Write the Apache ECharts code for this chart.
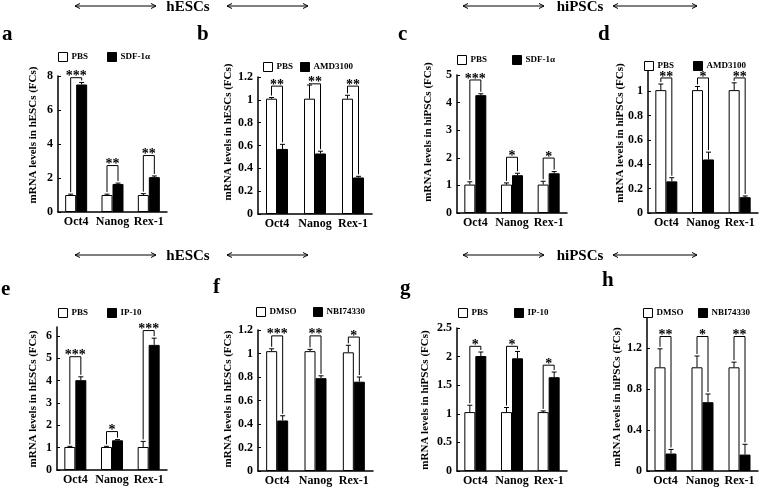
<!DOCTYPE html>
<html>
<head>
<meta charset="utf-8">
<script src="https://cdn.jsdelivr.net/npm/echarts@6/dist/echarts.min.js"></script>
<style>html,body{margin:0;padding:0;background:#fff}#c{width:760px;height:488px}</style>
</head>
<body>
<div id="c"></div>
<script>
// ---------------- data ----------------
const categories = ['Oct4', 'Nanog', 'Rex-1'];
const panelLetters = ['a', 'b', 'c', 'd', 'e', 'f', 'g', 'h'];
const controlNames = ['PBS', 'PBS', 'PBS', 'PBS', 'PBS', 'DMSO', 'PBS', 'DMSO'];
const treatNames = ['SDF-1α', 'AMD3100', 'SDF-1α', 'AMD3100', 'IP-10', 'NBI74330', 'IP-10', 'NBI74330'];
const cellTypes = ['hESCs', 'hESCs', 'hiPSCs', 'hiPSCs', 'hESCs', 'hESCs', 'hiPSCs', 'hiPSCs'];
const yMaxes = [8, 1.2, 5, 1.2, 6.4, 1.2, 2.5, 1.5];
const yIntervals = [2, 0.2, 1, 0.2, 1, 0.2, 0.5, 0.4];
const showMaxLabels = [true, true, true, false, false, true, true, false];

const ctrlA = [1.0, 1.0, 1.0],     ctrlErrA = [0.05, 0.05, 0.08];
const trtA = [7.5, 1.65, 2.05],     trtErrA = [0.12, 0.05, 0.07];
const bracketA = [7.9, 2.73, 3.32], starsA = ['***', '**', '**'];

const ctrlB = [1.01, 1.01, 1.01],   ctrlErrB = [0.01, 0.12, 0.03];
const trtB = [0.57, 0.53, 0.32],    trtErrB = [0.04, 0.02, 0.01];
const bracketB = [1.12, 1.14, 1.12], starsB = ['**', '**', '**'];

const ctrlC = [1.03, 1.03, 1.03],   ctrlErrC = [0.1, 0.06, 0.12];
const trtC = [4.27, 1.37, 1.44],    trtErrC = [0.05, 0.07, 0.06];
const bracketC = [4.82, 2.02, 1.99], starsC = ['***', '*', '*'];

const ctrlD = [1.01, 1.01, 1.01],   ctrlErrD = [0.05, 0.03, 0.06];
const trtD = [0.26, 0.44, 0.13],    trtErrD = [0.03, 0.06, 0.01];
const bracketD = [1.11, 1.11, 1.11], starsD = ['**', '*', '**'];

const ctrlE = [1.03, 1.03, 1.03],   ctrlErrE = [0.03, 0.03, 0.25];
const trtE = [4.02, 1.33, 5.6],     trtErrE = [0.15, 0.03, 0.3];
const bracketE = [5.07, 1.72, 6.24], starsE = ['***', '*', '***'];

const ctrlF = [1.02, 1.02, 1.01],   ctrlErrF = [0.02, 0.015, 0.06];
const trtF = [0.43, 0.79, 0.76],    trtErrF = [0.04, 0.02, 0.04];
const bracketF = [1.15, 1.15, 1.14], starsF = ['***', '**', '*'];

const ctrlG = [1.03, 1.03, 1.03],   ctrlErrG = [0.12, 0.08, 0.02];
const trtG = [2.01, 1.97, 1.64],    trtErrG = [0.07, 0.12, 0.09];
const bracketG = [2.18, 2.18, 1.85], starsG = ['*', '*', '*'];

const ctrlH = [1.01, 1.01, 1.01],   ctrlErrH = [0.18, 0.11, 0.05];
const trtH = [0.17, 0.67, 0.16],    trtErrH = [0.04, 0.08, 0.1];
const bracketH = [1.31, 1.31, 1.31], starsH = ['**', '*', '**'];

const ctrlAll = [ctrlA, ctrlB, ctrlC, ctrlD, ctrlE, ctrlF, ctrlG, ctrlH];
const ctrlErrAll = [ctrlErrA, ctrlErrB, ctrlErrC, ctrlErrD, ctrlErrE, ctrlErrF, ctrlErrG, ctrlErrH];
const trtAll = [trtA, trtB, trtC, trtD, trtE, trtF, trtG, trtH];
const trtErrAll = [trtErrA, trtErrB, trtErrC, trtErrD, trtErrE, trtErrF, trtErrG, trtErrH];
const bracketAll = [bracketA, bracketB, bracketC, bracketD, bracketE, bracketF, bracketG, bracketH];
const starsAll = [starsA, starsB, starsC, starsD, starsE, starsF, starsG, starsH];

// ---------------- layout ----------------
const FONT = '"Liberation Serif", "Times New Roman", serif';
const BW = 11;
const grids = [
  {left: 58, top: 76, width: 109, height: 136},
  {left: 258, top: 77, width: 114, height: 137},
  {left: 457, top: 75, width: 110, height: 138},
  {left: 648, top: 67, width: 110, height: 146},
  {left: 57, top: 327, width: 110, height: 143},
  {left: 258, top: 330, width: 115, height: 141},
  {left: 457, top: 328, width: 110, height: 143},
  {left: 647, top: 317, width: 111, height: 154}
];
const legendPos = [
  [[58, 52], [107, 52]], [[263, 62], [300, 62]], [[457, 55], [512, 55]], [[644, 61], [693, 61]],
  [[58, 308], [107, 308]], [[256, 307], [313, 307]], [[458, 308], [514, 308]], [[643, 308], [698, 308]]
];
const yNamePos = [[33, 135], [228, 132], [428, 132], [620, 133], [33, 399], [228, 399], [425, 400], [617, 397]];
const letterPos = [[2, 35], [197, 35], [398, 35], [598, 35], [1, 290], [213, 288], [400, 289], [602, 281]];

const option = {
  animation: false,
  backgroundColor: '#fff',
  grid: grids.map(g => Object.assign({containLabel: false}, g)),
  xAxis: [], yAxis: [], series: [], legend: [], graphic: []
};

for (let p = 0; p < 8; p++) {
  option.xAxis.push({
    type: 'category', gridIndex: p, data: categories,
    axisLine: {lineStyle: {color: '#000', width: 1.5}},
    axisTick: {show: false},
    axisLabel: {interval: 0, color: '#000', fontFamily: FONT, fontWeight: 'bold', fontSize: 12, margin: 4}
  });
  option.yAxis.push({
    type: 'value', gridIndex: p, min: 0, max: yMaxes[p], interval: yIntervals[p],
    axisLine: {show: true, lineStyle: {color: '#000', width: 1.5}},
    axisTick: {show: true, inside: true, length: 3, lineStyle: {color: '#000'}},
    splitLine: {show: false},
    axisLabel: {color: '#000', fontFamily: FONT, fontWeight: 'bold', fontSize: 12, margin: 5,
      showMaxLabel: showMaxLabels[p]}
  });
  const ctrl = ctrlAll[p], ctrlErr = ctrlErrAll[p], trt = trtAll[p], trtErr = trtErrAll[p];
  option.series.push({
    type: 'bar', name: controlNames[p], xAxisIndex: p, yAxisIndex: p, data: ctrl,
    barWidth: BW, barGap: '0%',
    itemStyle: {color: '#fff', borderColor: '#000', borderWidth: 1}
  });
  option.series.push({
    type: 'bar', name: treatNames[p], xAxisIndex: p, yAxisIndex: p, data: trt,
    barWidth: BW, barGap: '0%',
    itemStyle: {color: '#000', borderColor: '#000', borderWidth: 1}
  });
  // error bars
  const errData = [];
  for (let i = 0; i < 3; i++) {
    errData.push([i, ctrl[i], ctrlErr[i], -1]);
    errData.push([i, trt[i], trtErr[i], 1]);
  }
  option.series.push({
    type: 'custom', xAxisIndex: p, yAxisIndex: p, data: errData, z: 5,
    renderItem: function (params, api) {
      const c = api.value(0), v = api.value(1), e = api.value(2), side = api.value(3);
      const p0 = api.coord([c, v]), p1 = api.coord([c, v + e]);
      const x = p0[0] + side * BW / 2;
      return {type: 'group', children: [
        {type: 'line', shape: {x1: x, y1: p0[1], x2: x, y2: p1[1]}, style: {stroke: '#000', lineWidth: 1}},
        {type: 'line', shape: {x1: x - 2.5, y1: p1[1], x2: x + 2.5, y2: p1[1]}, style: {stroke: '#000', lineWidth: 1}}
      ]};
    }
  });
  // significance brackets
  const br = bracketAll[p], stars = starsAll[p];
  const brData = [];
  for (let i = 0; i < 3; i++) brData.push([i, ctrl[i] + ctrlErr[i], trt[i] + trtErr[i], br[i]]);
  option.series.push({
    type: 'custom', xAxisIndex: p, yAxisIndex: p, data: brData, z: 6, clip: false,
    renderItem: function (params, api) {
      const c = api.value(0);
      const l0 = api.coord([c, api.value(1)]), r0 = api.coord([c, api.value(2)]), t = api.coord([c, api.value(3)]);
      const xl = l0[0] - BW / 2, xr = l0[0] + BW / 2;
      return {type: 'group', children: [
        {type: 'polyline', shape: {points: [[xl, l0[1] - 2], [xl, t[1]], [xr, t[1]], [xr, r0[1] - 2]]},
          style: {stroke: '#000', lineWidth: 1, fill: null}},
        {type: 'text', x: (xl + xr) / 2, y: t[1] + 6,
          style: {text: stars[params.dataIndex], font: 'bold 14px ' + FONT, textAlign: 'center',
            textVerticalAlign: 'bottom', fill: '#000'}}
      ]};
    }
  });
  // legends
  [controlNames[p], treatNames[p]].forEach((nm, k) => {
    option.legend.push({
      left: legendPos[p][k][0], top: legendPos[p][k][1], padding: 0, orient: 'horizontal',
      icon: 'rect', itemWidth: 9, itemHeight: 9, selectedMode: false,
      textStyle: {fontFamily: FONT, fontWeight: 'bold', fontSize: 9, color: '#000', padding: [0, 0, 0, -1]},
      data: [{name: nm, itemStyle: k === 0 ? {color: '#fff', borderColor: '#000', borderWidth: 1}
                                         : {color: '#000', borderColor: '#000', borderWidth: 1}}]
    });
  });
  // y axis names
  option.graphic.push({
    type: 'text', x: yNamePos[p][0], y: yNamePos[p][1], rotation: Math.PI / 2,
    style: {text: 'mRNA levels in ' + cellTypes[p] + ' (FCs)', font: 'bold 11px ' + FONT,
      textAlign: 'center', textVerticalAlign: 'middle', fill: '#000'}
  });
  // panel letters
  option.graphic.push({
    type: 'text', x: letterPos[p][0], y: letterPos[p][1],
    style: {text: panelLetters[p], font: 'bold 21px ' + FONT, textAlign: 'left', textVerticalAlign: 'middle', fill: '#000'}
  });
}

// headers with double arrows
const headerTexts = ['hESCs', 'hiPSCs', 'hESCs', 'hiPSCs'];
const headerX = [188, 580, 188, 580];
const headerY = [7, 7, 256, 256];
const arrowSpans = [[[75, 156], [227, 308]], [[463, 544], [613, 697]], [[75, 156], [227, 308]], [[463, 544], [613, 697]]];
function arrow(x1, x2, y) {
  const s = {stroke: '#000', lineWidth: 1, fill: null};
  return [
    {type: 'line', shape: {x1: x1, y1: y, x2: x2, y2: y}, style: s},
    {type: 'polyline', shape: {points: [[x1 + 5, y - 2.5], [x1, y], [x1 + 5, y + 2.5]]}, style: s},
    {type: 'polyline', shape: {points: [[x2 - 5, y - 2.5], [x2, y], [x2 - 5, y + 2.5]]}, style: s}
  ];
}
for (let h = 0; h < 4; h++) {
  option.graphic.push({
    type: 'text', x: headerX[h], y: headerY[h],
    style: {text: headerTexts[h], font: 'bold 15px ' + FONT, textAlign: 'center', textVerticalAlign: 'middle', fill: '#000'}
  });
  arrowSpans[h].forEach(sp => {
    arrow(sp[0], sp[1], headerY[h] - 1).forEach(el => option.graphic.push(el));
  });
}

const chart = echarts.init(document.getElementById('c'), null, {renderer: 'canvas'});
chart.setOption(option);
</script>
</body>
</html>
